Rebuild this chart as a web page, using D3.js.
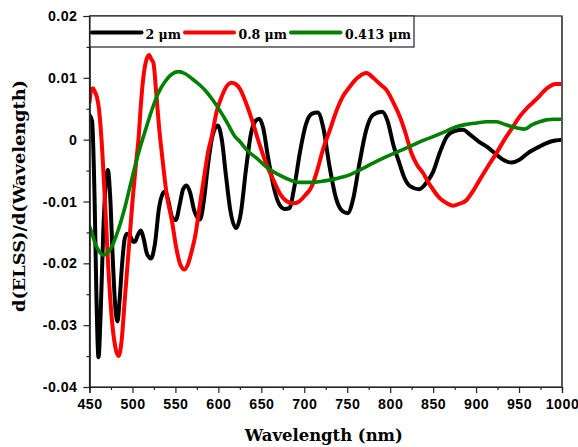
<!DOCTYPE html>
<html>
<head>
<meta charset="utf-8">
<script src="https://cdn.jsdelivr.net/npm/d3@7/dist/d3.min.js"></script>
<style>
  html, body { margin: 0; padding: 0; background: #fff; }
  svg { display: block; }
  .tick-label { font-family: "Liberation Sans", Arial, sans-serif; font-weight: bold; font-size: 14.2px; letter-spacing: 0.5px; fill: #000; }
  .axis-title { font-family: "DejaVu Serif", serif; font-weight: bold; font-size: 16px; fill: #000; }
  .legend-text { font-family: "DejaVu Serif", serif; font-weight: bold; font-size: 12.5px; fill: #000; }
</style>
</head>
<body>
<svg id="chart" width="578" height="447"></svg>
<script>
// Derivative of ELSS vs wavelength for three particle sizes: [wavelength nm, value]
const series2um = [
  [450, 0.0040], [453, 0.0030], [456, -0.010], [458, -0.025], [460.5, -0.0352], [463, -0.028],
  [466, -0.015], [469, -0.007], [471.4, -0.0049], [474, -0.009], [477, -0.019], [480, -0.027],
  [482.6, -0.0294], [485, -0.026], [488, -0.020], [491, -0.016], [493.5, -0.0152], [497, -0.0155],
  [501, -0.0165], [503, -0.0165], [506, -0.0155], [509.8, -0.0147], [513, -0.0160], [517, -0.0185],
  [521.7, -0.0192], [526, -0.017], [531, -0.011], [535, -0.0088], [538, -0.0084], [542, -0.0100],
  [546, -0.0125], [550.5, -0.0130], [555, -0.0105], [559, -0.0080], [563, -0.0074], [567, -0.0085],
  [572, -0.0115], [578.7, -0.0129], [583, -0.010], [588, -0.004], [593, 0.0005], [599.3, 0.0023],
  [604, 0.000], [609, -0.006], [614, -0.0115], [620.6, -0.0143], [626, -0.012], [632, -0.005],
  [638, 0.0010], [643, 0.0030], [647.7, 0.0034], [652, 0.002], [658, -0.003], [665, -0.008],
  [671, -0.0105], [677, -0.0112], [682.6, -0.0111], [688, -0.008], [695, -0.002], [702, 0.0025],
  [709, 0.0042], [715.6, 0.0044], [722, 0.002], [729, -0.004], [737, -0.0095], [744, -0.0115],
  [750.5, -0.0119], [757, -0.0095], [764, -0.004], [772, 0.0015], [780, 0.0040], [790.7, 0.0045],
  [797, 0.003], [804, -0.001], [810, -0.0035], [816, -0.0060], [823, -0.0075], [833.7, -0.0080],
  [843, -0.0068], [850, -0.0052], [858, -0.002], [866, 0.0005], [875, 0.0014], [884.9, 0.0016],
  [893, 0.0008], [903, -0.0003], [912, -0.0011], [922, -0.0022], [932, -0.0033], [941, -0.0037],
  [950, -0.0033], [960, -0.0022], [974, -0.0011], [987, -0.0003], [1000, 0.0000]
];

const series08um = [
  [450, 0.0060], [452, 0.0080], [454, 0.0083], [456, 0.0078], [458.6, 0.0069], [461, 0.005],
  [464, 0.000], [468, -0.010], [472, -0.021], [476, -0.029], [480, -0.0335], [483.7, -0.0350],
  [487, -0.033], [491, -0.026], [495.3, -0.0184], [500, -0.010], [504, -0.004], [507, 0.000],
  [510, 0.006], [512.8, 0.0102], [516, 0.0128], [519.4, 0.0137], [522, 0.0130], [524.4, 0.0124],
  [528, 0.007], [531, 0.002], [534.2, -0.0022], [540, -0.009], [545.8, -0.0130], [551, -0.0175],
  [556, -0.0203], [560.5, -0.0210], [565, -0.0200], [569, -0.0180], [572.9, -0.0157], [578, -0.011],
  [584, -0.0055], [588, -0.002], [592.3, 0.0005], [598, 0.0045], [604, 0.0070], [610, 0.0087],
  [615.6, 0.0092], [620, 0.0090], [625.2, 0.0082], [632, 0.0060], [640, 0.0028], [648, -0.0008],
  [656, -0.0040], [664, -0.0065], [672, -0.0088], [680, -0.0100], [687.3, -0.0103], [694, -0.0100],
  [701, -0.0090], [708.6, -0.0076], [715, -0.0050], [722, -0.0015], [729.9, 0.0016], [737, 0.0045],
  [745, 0.0070], [753.2, 0.0086], [762, 0.0100], [772.6, 0.0108], [780.2, 0.0100], [788, 0.0090],
  [795.8, 0.0080], [803, 0.0062], [811.3, 0.0037], [818, 0.0010], [824.8, -0.0022], [831, -0.0040],
  [838.3, -0.0054], [844, -0.0068], [850, -0.0081], [858, -0.0095], [866, -0.0103], [873.2, -0.0107],
  [880, -0.0104], [888.7, -0.0098], [896, -0.0084], [904.2, -0.0065], [913, -0.0045], [923.6, -0.0022],
  [933, 0.0000], [943, 0.0021], [950, 0.0036], [958.5, 0.0050], [966, 0.0060], [974, 0.0071],
  [980, 0.0080], [985.6, 0.0086], [992, 0.0090], [1000, 0.0090]
];

const series0413um = [
  [450, -0.0140], [453, -0.0152], [456.6, -0.0168], [461, -0.0180], [466.3, -0.0187], [471, -0.0183],
  [476, -0.0173], [483, -0.0148], [491.5, -0.0108], [499, -0.0065], [507, -0.0022], [515, 0.0015],
  [522.6, 0.0048], [530, 0.0075], [538, 0.0094], [545, 0.0105], [553.5, 0.0110], [561, 0.0107],
  [569, 0.0099], [577, 0.0090], [584.5, 0.0080], [592, 0.0067], [600, 0.0051], [610, 0.0028],
  [619.4, 0.0005], [625, -0.0003], [634, -0.0018], [644.6, -0.0030], [654, -0.0042], [664, -0.0052],
  [678, -0.0062], [693, -0.0069], [707, -0.0069], [721.8, -0.0067], [737, -0.0063], [752.7, -0.0057],
  [766, -0.0048], [780, -0.0038], [795, -0.0028], [811, -0.0018], [823, -0.0011], [837, -0.0002],
  [850, 0.0005], [864, 0.0013], [877, 0.0021], [890, 0.0025], [900.5, 0.0027], [912, 0.0029],
  [923.6, 0.0029], [931, 0.0026], [939, 0.0022], [948, 0.0019], [956.5, 0.0017], [965, 0.0024],
  [974, 0.0029], [981.7, 0.0032], [990, 0.0033], [1000, 0.0033]
];

const seriesNames = ["2 \u03bcm", "0.8 \u03bcm", "0.413 \u03bcm"];
const seriesColors = ["#000000", "#ff0000", "#008000"];
const xTicks = [450, 500, 550, 600, 650, 700, 750, 800, 850, 900, 950, 1000];
const yTicks = [-0.04, -0.03, -0.02, -0.01, 0, 0.01, 0.02];
const xTitle = "Wavelength (nm)";
const yTitle = "d(ELSS)/d(Wavelength)";

const W = 578, H = 447;
const margin = { left: 89.5, right: 16, top: 16, bottom: 60 };
const innerW = W - margin.left - margin.right;
const innerH = H - margin.top - margin.bottom;

const svg = d3.select("#chart");
const x = d3.scaleLinear().domain([450, 1000]).range([margin.left, margin.left + innerW]);
const y = d3.scaleLinear().domain([-0.04, 0.02]).range([margin.top + innerH, margin.top]);

// clip for the curves
svg.append("defs").append("clipPath").attr("id", "plot-clip")
  .append("rect")
  .attr("x", margin.left).attr("y", margin.top)
  .attr("width", innerW).attr("height", innerH);

// curves
const line = d3.line()
  .x(d => x(d[0]))
  .y(d => y(d[1]))
  .curve(d3.curveMonotoneX);

const allSeries = [series2um, series08um, series0413um];
const curves = svg.append("g").attr("clip-path", "url(#plot-clip)");
allSeries.forEach((s, i) => {
  curves.append("path")
    .datum(s)
    .attr("d", line)
    .attr("fill", "none")
    .attr("stroke", seriesColors[i])
    .attr("stroke-width", i === 2 ? 3.6 : 4)
    .attr("stroke-linejoin", "round")
    .attr("stroke-linecap", "round");
});

// frame
svg.append("rect")
  .attr("x", margin.left).attr("y", margin.top)
  .attr("width", innerW).attr("height", innerH)
  .attr("fill", "none").attr("stroke", "#222").attr("stroke-width", 1.2);
svg.append("line")
  .attr("x1", margin.left + innerW).attr("x2", margin.left + innerW)
  .attr("y1", margin.top).attr("y2", margin.top + innerH)
  .attr("stroke", "#555").attr("stroke-width", 1.8);

// x axis
const xAxis = svg.append("g").attr("transform", `translate(0,${margin.top + innerH})`);
xAxis.call(d3.axisBottom(x).tickValues(d3.range(475, 1000, 50)).tickSize(3).tickFormat(""));
xAxis.call(g => g.append("g").call(d3.axisBottom(x).tickValues(xTicks).tickSize(6).tickPadding(6).tickFormat(d3.format("d"))));
xAxis.selectAll(".domain").attr("stroke", "#222").attr("stroke-width", 1.2);
xAxis.selectAll(".tick line").attr("stroke", "#222").attr("stroke-width", 1.2);
xAxis.selectAll(".tick text").attr("class", "tick-label").attr("font-family", null).attr("font-size", null);

// y axis
const yFmt = v => (v === 0 ? "0" : v.toFixed(2));
const yAxis = svg.append("g").attr("transform", `translate(${margin.left},0)`);
yAxis.call(d3.axisLeft(y).tickValues(d3.range(-0.035, 0.02, 0.01)).tickSize(3).tickFormat(""));
yAxis.call(g => g.append("g").call(d3.axisLeft(y).tickValues(yTicks).tickSize(6).tickPadding(6).tickFormat(yFmt)));
yAxis.selectAll(".domain").attr("stroke", "#222").attr("stroke-width", 1.2);
yAxis.selectAll(".tick line").attr("stroke", "#222").attr("stroke-width", 1.2);
yAxis.selectAll(".tick text").attr("class", "tick-label").attr("font-family", null).attr("font-size", null);

// axis titles
svg.append("text")
  .attr("class", "axis-title")
  .attr("x", margin.left + innerW / 2 - 2)
  .attr("y", 441)
  .attr("text-anchor", "middle")
  .attr("textLength", 158).attr("lengthAdjust", "spacingAndGlyphs")
  .text(xTitle);

svg.append("text")
  .attr("class", "axis-title")
  .attr("transform", "translate(25,196) rotate(-90)")
  .attr("text-anchor", "middle")
  .attr("textLength", 232).attr("lengthAdjust", "spacingAndGlyphs")
  .text(yTitle);

// legend
const legend = svg.append("g");
legend.append("rect")
  .attr("x", margin.left + 0.5).attr("y", margin.top)
  .attr("width", 324).attr("height", 31)
  .attr("fill", "#fff").attr("stroke", "#222").attr("stroke-width", 1.2);

const legendItems = [
  { x0: 92, x1: 141.5, tx: 145.5 },
  { x0: 185, x1: 234, tx: 238.5 },
  { x0: 291, x1: 340.5, tx: 345 }
];
legendItems.forEach((it, i) => {
  legend.append("line")
    .attr("x1", it.x0).attr("x2", it.x1)
    .attr("y1", 32.5).attr("y2", 32.5)
    .attr("stroke", seriesColors[i]).attr("stroke-width", 4)
    .attr("stroke-linecap", "round");
  legend.append("text")
    .attr("class", "legend-text")
    .attr("x", it.tx).attr("y", 39)
    .text(seriesNames[i]);
});
</script>
</body>
</html>
